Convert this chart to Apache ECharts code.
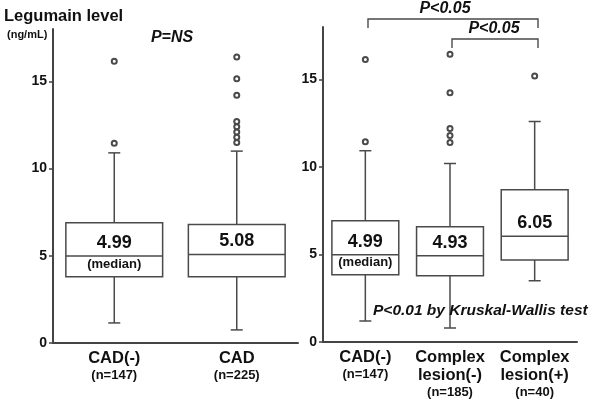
<!DOCTYPE html>
<html>
<head>
<meta charset="utf-8">
<script src="https://cdn.jsdelivr.net/npm/echarts@6/dist/echarts.min.js"></script>
<style>
  html, body { margin: 0; padding: 0; background: #fff; }
  #main { width: 600px; height: 403px; }
</style>
</head>
<body>
<div id="main"></div>
<script>
// left panel: all patients
var leftCats = ['CAD(-)', 'CAD'];
var leftN = ['(n=147)', '(n=225)'];
// [min, Q1, median, Q3, max]
var leftBox = [
  [1.15, 3.8, 4.99, 6.9, 10.9],
  [0.75, 3.8, 5.08, 6.8, 11.0]
];
var leftOut = [
  [16.15, 11.45],
  [16.4, 15.15, 14.2, 12.7, 12.4, 12.1, 11.8, 11.5]
];
var leftMedText = ['4.99', '5.08'];

// right panel: by complex lesion
var rightCats = ['CAD(-)', 'Complex\nlesion(-)', 'Complex\nlesion(+)'];
var rightN = ['(n=147)', '(n=185)', '(n=40)'];
var rightBox = [
  [1.2, 3.84, 4.99, 6.93, 10.93],
  [0.8, 3.78, 4.93, 6.58, 10.2],
  [3.5, 4.69, 6.05, 8.7, 12.6]
];
var rightOut = [
  [16.15, 11.45],
  [16.45, 14.25, 12.2, 11.8, 11.4],
  [15.2]
];
var rightMedText = ['4.99', '4.93', '6.05'];

var yTicks = [0, 5, 10, 15];

var myChart = echarts.init(document.getElementById('main'));
var FONT = '"Liberation Sans", Arial, Helvetica, sans-serif';
var LINE = '#4a4a4a';

function renderBox(params, api) {
  var x = api.value(0);
  var p = [1, 2, 3, 4, 5].map(function (i) { return api.coord([x, api.value(i)]); });
  var w = api.size([1, 0])[0] * 0.79;
  var h = w / 2, cx = p[0][0], cap = 6;
  var st = { stroke: LINE, lineWidth: 1.5, fill: null };
  return {
    type: 'group',
    children: [
      { type: 'line', shape: { x1: cx, y1: p[3][1], x2: cx, y2: p[4][1] }, style: st },
      { type: 'line', shape: { x1: cx, y1: p[1][1], x2: cx, y2: p[0][1] }, style: st },
      { type: 'line', shape: { x1: cx - cap, y1: p[4][1], x2: cx + cap, y2: p[4][1] }, style: st },
      { type: 'line', shape: { x1: cx - cap, y1: p[0][1], x2: cx + cap, y2: p[0][1] }, style: st },
      { type: 'rect', shape: { x: cx - h, y: p[3][1], width: w, height: p[1][1] - p[3][1] },
        style: { stroke: LINE, lineWidth: 1.5, fill: '#fff' } },
      { type: 'line', shape: { x1: cx - h, y1: p[2][1], x2: cx + h, y2: p[2][1] }, style: st }
    ]
  };
}

function boxData(arr) {
  return arr.map(function (b, i) { return [i].concat(b); });
}
function outData(arr) {
  var d = [];
  arr.forEach(function (vals, i) { vals.forEach(function (v) { d.push([i, v]); }); });
  return d;
}
function medData(arr) {
  return arr.map(function (b, i) { return [i, b[2]]; });
}

function xAxisFor(cats, ns, gi) {
  return {
    type: 'category', gridIndex: gi, data: cats,
    axisLine: { lineStyle: { color: '#444', width: 2 } },
    axisTick: { inside: true, length: 4, lineStyle: { color: '#444', width: 1.5 } },
    axisLabel: {
      margin: 6, interval: 0,
      formatter: function (v, idx) {
        var lines = v.split('\n').map(function (s) { return '{a|' + s + '}'; });
        lines.push('{b|' + ns[idx] + '}');
        return lines.join('\n');
      },
      rich: {
        a: { fontFamily: FONT, fontWeight: 'bold', fontSize: 16.5, color: '#111', lineHeight: 18 },
        b: { fontFamily: FONT, fontWeight: 'bold', fontSize: 13, color: '#111', lineHeight: 17 }
      }
    }
  };
}

function yAxisFor(gi) {
  return {
    type: 'value', gridIndex: gi, min: 0, max: 18,
    splitLine: { show: false },
    axisLine: { show: true, lineStyle: { color: '#444', width: 2 } },
    axisTick: { show: true, length: 4, customValues: yTicks, lineStyle: { color: '#444', width: 1.5 } },
    axisLabel: { customValues: yTicks, margin: 6, fontFamily: FONT, fontWeight: 'bold', fontSize: 14, color: '#111' }
  };
}

var medLabelStyle = { show: true, position: 'inside', offset: [0, -13], fontFamily: FONT, fontWeight: 'bold', fontSize: 18, color: '#111' };
var subLabelStyle = { show: true, position: 'inside', offset: [0, 8], fontFamily: FONT, fontWeight: 'bold', fontSize: 13, color: '#111', formatter: '(median)' };
var solid = { opacity: 1 };

var option = {
  animation: false,
  backgroundColor: '#fff',
  grid: [
    { left: 53, top: 29, width: 245, height: 314 },
    { left: 323, top: 27, width: 254, height: 315 }
  ],
  xAxis: [xAxisFor(leftCats, leftN, 0), xAxisFor(rightCats, rightN, 1)],
  yAxis: [yAxisFor(0), yAxisFor(1)],
  series: [
    { type: 'custom', xAxisIndex: 0, yAxisIndex: 0, renderItem: renderBox, encode: { x: 0, y: [1, 2, 3, 4, 5] }, data: boxData(leftBox), z: 2 },
    { type: 'custom', xAxisIndex: 1, yAxisIndex: 1, renderItem: renderBox, encode: { x: 0, y: [1, 2, 3, 4, 5] }, data: boxData(rightBox), z: 2 },
    { type: 'scatter', xAxisIndex: 0, yAxisIndex: 0, symbol: 'emptyCircle', symbolSize: 5, itemStyle: { color: LINE, borderWidth: 1.3, opacity: 1 }, data: outData(leftOut), z: 3 },
    { type: 'scatter', xAxisIndex: 1, yAxisIndex: 1, symbol: 'emptyCircle', symbolSize: 5, itemStyle: { color: LINE, borderWidth: 1.3, opacity: 1 }, data: outData(rightOut), z: 3 },
    { type: 'scatter', xAxisIndex: 0, yAxisIndex: 0, symbolSize: 0, itemStyle: solid, data: medData(leftBox), z: 4,
      label: Object.assign({}, medLabelStyle, { formatter: function (p) { return leftMedText[p.dataIndex]; } }) },
    { type: 'scatter', xAxisIndex: 1, yAxisIndex: 1, symbolSize: 0, itemStyle: solid, data: medData(rightBox), z: 4,
      label: Object.assign({}, medLabelStyle, { formatter: function (p) { return rightMedText[p.dataIndex]; } }) },
    { type: 'scatter', xAxisIndex: 0, yAxisIndex: 0, symbolSize: 0, itemStyle: solid, data: medData(leftBox).slice(0, 1), z: 4, label: subLabelStyle },
    { type: 'scatter', xAxisIndex: 1, yAxisIndex: 1, symbolSize: 0, itemStyle: solid, data: medData(rightBox).slice(0, 1), z: 4, label: subLabelStyle }
  ],
  graphic: [
    { type: 'text', left: 4, top: 8, style: { text: 'Legumain level', font: 'bold 16.5px ' + FONT, fill: '#111' } },
    { type: 'text', left: 7, top: 29, style: { text: '(ng/mL)', font: 'bold 11px ' + FONT, fill: '#111' } },
    { type: 'text', x: 172, y: 38, style: { text: 'P=NS', font: 'italic bold 16px ' + FONT, fill: '#111', align: 'center', verticalAlign: 'middle' } },
    // brackets
    { type: 'polyline', shape: { points: [[368, 28], [368, 19], [538, 19], [538, 28]] }, style: { stroke: LINE, lineWidth: 1.4, fill: null } },
    { type: 'polyline', shape: { points: [[452, 48], [452, 39], [538, 39], [538, 48]] }, style: { stroke: LINE, lineWidth: 1.4, fill: null } },
    { type: 'text', x: 445, y: 9, style: { text: 'P<0.05', font: 'italic bold 16px ' + FONT, fill: '#111', align: 'center', verticalAlign: 'middle' } },
    { type: 'text', x: 494, y: 29, style: { text: 'P<0.05', font: 'italic bold 16px ' + FONT, fill: '#111', align: 'center', verticalAlign: 'middle' } },
    { type: 'text', x: 373, y: 311, z: 10, style: { text: 'P<0.01 by Kruskal-Wallis test', font: 'italic bold 15.5px ' + FONT, fill: '#111', verticalAlign: 'middle' } }
  ]
};

myChart.setOption(option);
</script>
</body>
</html>
